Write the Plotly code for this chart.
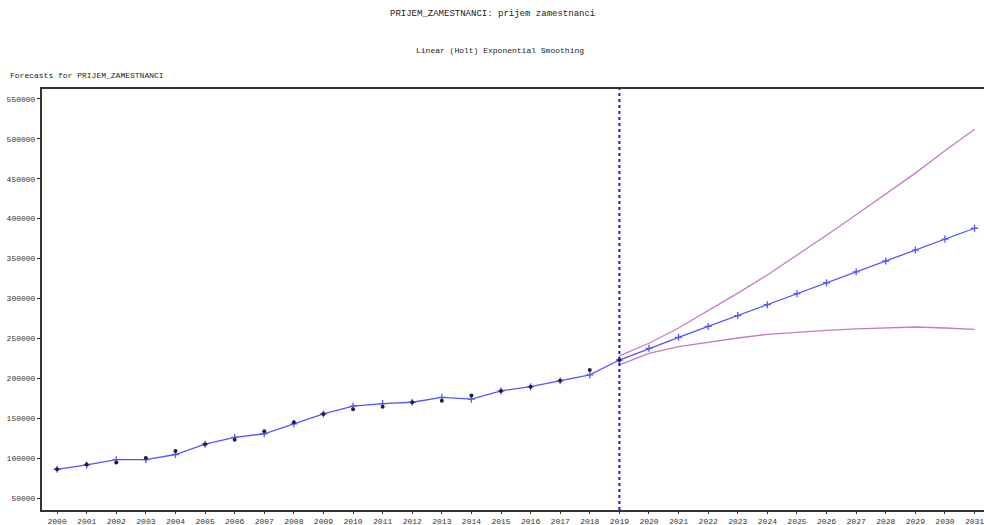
import plotly.graph_objects as go

years_hist = list(range(2000, 2020))
actual = [86000, 92000, 94500, 100000, 109000, 117500, 123000, 133500, 145000, 155300,
          161300, 164400, 170000, 172000, 178300, 184200, 189500, 197000, 210400, 222900]

years_all = list(range(2000, 2032))
fitted = [86000, 91500, 98000, 98000, 104500, 117500, 126000, 130500, 143000, 155300,
          165000, 168300, 170000, 176200, 173800, 184200, 189500, 197000, 204200, 222900,
          237600, 251300, 265000, 278600, 292300, 306000, 319700, 333400, 347000, 360700,
          374400, 388000]

years_fc = list(range(2019, 2032))
upper = [228000, 243900, 263000, 284500, 306700, 329500, 354000, 379300, 405000, 431000,
         457100, 485000, 512000]
lower = [216700, 231300, 239600, 245500, 250500, 255100, 258000, 260100, 261800, 263000,
         264300, 263000, 261400]

y_ticks = [50000, 100000, 150000, 200000, 250000, 300000, 350000, 400000, 450000, 500000, 550000]

title_text = "PRIJEM_ZAMESTNANCI: prijem zamestnanci"
subtitle_text = "Linear (Holt) Exponential Smoothing"
plot_label = "Forecasts for PRIJEM_ZAMESTNANCI"

FONT = "Liberation Mono"
band_color = "rgb(195,125,195)"
fit_color = "rgb(85,85,255)"

L, T, W, H = 42, 89, 942, 421

fig = go.Figure()
fig.add_trace(go.Scatter(x=years_fc, y=upper, mode="lines",
                         line=dict(color=band_color, width=1.3), showlegend=False))
fig.add_trace(go.Scatter(x=years_fc, y=lower, mode="lines",
                         line=dict(color=band_color, width=1.3), showlegend=False))
fig.add_trace(go.Scatter(x=years_all, y=fitted, mode="lines+markers",
                         line=dict(color=fit_color, width=1.3),
                         marker=dict(symbol="cross-thin-open", size=5,
                                     line=dict(color="rgb(40,40,230)", width=1.3)),
                         showlegend=False))
fig.add_trace(go.Scatter(x=years_hist, y=actual, mode="markers",
                         marker=dict(symbol="circle", size=4, color="#222222"),
                         showlegend=False))

fig.add_shape(type="line", xref="x", yref="paper", x0=2019, x1=2019, y0=0, y1=1,
              line=dict(color="rgb(20,20,255)", width=2, dash="dot"))

fig.add_annotation(text=title_text, xref="paper", yref="paper",
                   x=(492 - L) / W, y=1 + (T - 14) / H,
                   xanchor="center", yanchor="middle", showarrow=False,
                   font=dict(family=FONT, size=9, color="#222"))
fig.add_annotation(text=subtitle_text, xref="paper", yref="paper",
                   x=(500 - L) / W, y=1 + (T - 51) / H,
                   xanchor="center", yanchor="middle", showarrow=False,
                   font=dict(family=FONT, size=8, color="#222"))
fig.add_annotation(text=plot_label, xref="paper", yref="paper",
                   x=(8 - L) / W, y=1 + (T - 76) / H,
                   xanchor="left", yanchor="middle", showarrow=False,
                   font=dict(family=FONT, size=8, color="#222"))

fig.update_layout(
    width=984, height=525,
    margin=dict(l=L, r=0, t=T, b=525 - T - H, autoexpand=False),
    paper_bgcolor="white", plot_bgcolor="white",
    font=dict(family=FONT, size=9, color="#333"),
    xaxis=dict(range=[1999.49, 2031.32], tickmode="array", tickvals=years_all,
               ticktext=[str(y) for y in years_all], showgrid=False, zeroline=False,
               showline=True, linecolor="#333", linewidth=2, mirror=True,
               ticks="outside", ticklen=2, tickcolor="#333", automargin=False,
               ticklabeloverflow="allow",
               tickfont=dict(family=FONT, size=8, color="#333")),
    yaxis=dict(range=[34960, 562500], tickmode="array", tickvals=y_ticks,
               ticktext=[str(v) for v in y_ticks], showgrid=False, zeroline=False,
               showline=True, linecolor="#333", linewidth=2, automargin=False,
               ticks="outside", ticklen=3, tickcolor="#333",
               tickfont=dict(family=FONT, size=8, color="#333")),
)

fig.write_html("out.html", config={"displayModeBar": False},
               post_script="document.body.style.margin='0';document.body.style.padding='0';document.body.style.overflow='hidden';")
